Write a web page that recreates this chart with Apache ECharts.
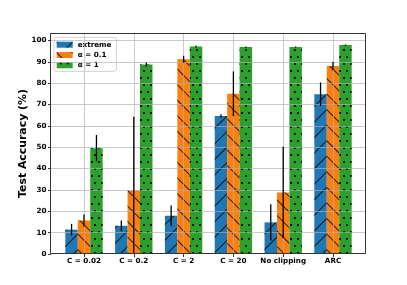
<!DOCTYPE html>
<html>
<head>
<meta charset="utf-8">
<script src="https://cdn.jsdelivr.net/npm/echarts@6/dist/echarts.min.js"></script>
<style>html,body{margin:0;padding:0;background:#fff}#c{width:407px;height:285px}</style>
</head>
<body>
<div id="c"></div>
<script>
const categories = ['C = 0.02', 'C = 0.2', 'C = 2', 'C = 20', 'No clipping', 'ARC'];
const seriesNames = ['extreme', 'α = 0.1', 'α = 1'];
const extremeVals = [11.4, 13.2, 17.9, 64.6, 14.8, 74.8];
const extremeErr  = [2.7, 2.5, 4.8, 0.8, 8.5, 5.5];
const a01Vals     = [15.7, 29.8, 91.2, 75.0, 28.8, 88.0];
const a01Err      = [2.8, 34.5, 1.6, 10.5, 21.4, 2.0];
const a1Vals      = [49.5, 88.7, 97.1, 96.9, 96.9, 97.8];
const a1Err       = [6.2, 1.0, 0.4, 0.3, 0.3, 0.3];
const yTicks = [0, 10, 20, 30, 40, 50, 60, 70, 80, 90, 100];
const yTitle = 'Test Accuracy (%)';
const yMax = 103;

const colors = ['#1f77b4', '#ff7f0e', '#2ca02c'];
const vals = [extremeVals, a01Vals, a1Vals];
const errs = [extremeErr, a01Err, a1Err];
const FONT = 'DejaVu Sans';

const decals = [
  { symbol: 'rect', symbolSize: 1, color: 'rgba(0,0,0,0.8)', dashArrayX: [1, 0], dashArrayY: [0.8, 10], rotation: -Math.PI / 4 },
  { symbol: 'rect', symbolSize: 1, color: 'rgba(0,0,0,0.8)', dashArrayX: [1, 0], dashArrayY: [0.8, 10], rotation: Math.PI / 4 },
  { symbol: 'rect', symbolSize: 1, color: 'rgba(0,0,0,0.9)', dashArrayX: [[1.6, 4.4], [0, 3, 1.6, 1.4]], dashArrayY: [1.6, 4.6] }
];

const series = [];
for (let k = 0; k < 3; k++) {
  series.push({
    name: seriesNames[k], type: 'bar', xAxisIndex: 1, yAxisIndex: 1,
    data: vals[k], barWidth: '25%', barGap: '0%', z: 2,
    itemStyle: { color: colors[k], decal: decals[k] },
    emphasis: { disabled: true }
  });
}
for (let k = 0; k < 3; k++) {
  series.push({
    type: 'custom', xAxisIndex: 1, yAxisIndex: 1, z: 10, silent: true,
    data: vals[k].map((v, j) => [j, v - errs[k][j], v + errs[k][j]]),
    renderItem: (params, api) => {
      const i = api.value(0);
      const lo = Math.max(0, api.value(1));
      const hi = Math.min(yMax, api.value(2));
      const bw = api.size([1, 0])[0] * 0.25;
      const off = (k - 1) * bw;
      const p1 = api.coord([i, lo]);
      const p2 = api.coord([i, hi]);
      return { type: 'line', shape: { x1: p1[0] + off, y1: p1[1], x2: p2[0] + off, y2: p2[1] },
               style: { stroke: '#000', lineWidth: 1.3 } };
    }
  });
}
const gridLine = { color: 'rgba(176,176,176,0.75)', width: 0.9, type: 'solid' };
series.push({
  type: 'line', xAxisIndex: 0, yAxisIndex: 0, data: [], z: 5, silent: true,
  markLine: { silent: true, symbol: 'none', label: { show: false }, lineStyle: gridLine, animation: false,
    data: yTicks.slice(1).map(v => ({ yAxis: v })) }
});
series.push({
  type: 'line', xAxisIndex: 1, yAxisIndex: 1, data: [], z: 5, silent: true,
  markLine: { silent: true, symbol: 'none', label: { show: false }, lineStyle: gridLine, animation: false,
    data: categories.map(c => ({ xAxis: c })) }
});

const chart = echarts.init(document.getElementById('c'), null, { renderer: 'canvas' });
chart.setOption({
  animation: false,
  backgroundColor: '#fff',
  grid: [
    { left: 51, right: 41, top: 34, bottom: 31 },
    { left: 59.1, right: 49.1, top: 34, bottom: 31 }
  ],
  xAxis: [
    { type: 'value', gridIndex: 0, min: 0, max: 1, show: false },
    { type: 'category', gridIndex: 1, data: categories,
      axisLine: { show: false },
      axisTick: { show: true, alignWithLabel: true, length: 3, lineStyle: { color: '#333' } },
      axisLabel: { fontFamily: FONT, fontWeight: 'bold', fontSize: 7.2, color: '#000', margin: 4, interval: 0 },
      splitLine: { show: false } }
  ],
  yAxis: [
    { type: 'value', gridIndex: 0, min: 0, max: yMax, interval: 10,
      axisLine: { show: false },
      axisTick: { show: true, length: 3, lineStyle: { color: '#333' }, customValues: yTicks },
      axisLabel: { fontFamily: FONT, fontWeight: 'bold', fontSize: 7.2, color: '#000', margin: 4.5, customValues: yTicks },
      splitLine: { show: false } },
    { type: 'value', gridIndex: 1, min: 0, max: yMax, show: false }
  ],
  legend: {
    data: seriesNames, left: 54, top: 37.3, orient: 'vertical',
    icon: 'rect', itemWidth: 16, itemHeight: 6, itemGap: 2.3,
    padding: [3.4, 5, 2, 2.7],
    backgroundColor: 'rgba(255,255,255,0.8)', borderColor: '#d0d0d0', borderWidth: 1, borderRadius: 2.5,
    textStyle: { fontFamily: FONT, fontWeight: 'bold', fontSize: 7.2, color: '#000', lineHeight: 8 },
    selectedMode: false
  },
  graphic: [
    { type: 'rect', z: 100, silent: true,
      shape: { x: 50.5, y: 33.5, width: 315, height: 220 },
      style: { fill: 'none', stroke: '#333', lineWidth: 1 } },
    { type: 'text', z: 100, silent: true, x: 23.5, y: 143.5, rotation: Math.PI / 2,
      style: { text: yTitle, fontFamily: FONT, fontWeight: 'bold', fontSize: 10.9, fill: '#000',
               align: 'center', verticalAlign: 'middle' } }
  ],
  series: series
});
</script>
</body>
</html>
